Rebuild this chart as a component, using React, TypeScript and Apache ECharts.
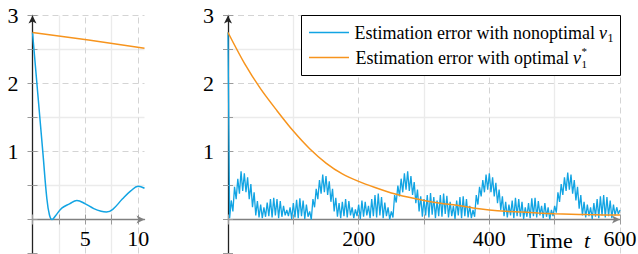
import React, { useEffect, useRef } from 'react';
import * as echarts from 'echarts';

const BLUE = '#12a4e3';
const ORANGE = '#f7941d';
const FONT = 'Liberation Serif';

// ---- Left panel (first seconds) ----
const leftBlueT = [0, 0.5, 1.0, 1.35, 1.6, 1.85, 2.2, 2.8, 3.5, 4.2, 5.0, 5.8, 6.5, 7.0, 7.6, 8.5, 9.3, 10.0, 10.6];
const leftBlueV = [2.75, 1.85, 0.95, 0.32, 0.07, 0.0, 0.06, 0.17, 0.23, 0.28, 0.23, 0.16, 0.12, 0.11, 0.15, 0.3, 0.42, 0.49, 0.46];
const leftOrangeT = [0, 5.3, 10.6];
const leftOrangeV = [2.75, 2.64, 2.52];

// ---- Right panel ----
const rightOrangeT = [0, 25, 50, 75, 100, 125, 150, 175, 200, 225, 250, 275, 300, 325, 350, 375, 400, 425, 450, 475, 500, 525, 550, 575, 600];
const rightOrangeV = [2.75, 2.3, 1.92, 1.6, 1.3, 1.04, 0.83, 0.67, 0.56, 0.47, 0.39, 0.33, 0.28, 0.24, 0.21, 0.17, 0.14, 0.12, 0.11, 0.095, 0.085, 0.078, 0.072, 0.068, 0.065];

const BLUE_STEP = 2.5;
const blueStart = [0, 2.75];
const blueSegA = [0.02, 0.28, 0.12, 0.48, 0.30, 0.60, 0.38, 0.71, 0.42, 0.68, 0.40, 0.62, 0.30, 0.52, 0.18, 0.40, 0.06, 0.27];
const blueSegB = [0.03, 0.22, 0.02, 0.18, 0.04, 0.25, 0.05, 0.30, 0.03, 0.32, 0.06, 0.30, 0.02, 0.27, 0.04, 0.20, 0.06, 0.14, 0.05, 0.18, 0.01, 0.24, 0.03, 0.29, 0.02, 0.31, 0.05, 0.28, 0.01, 0.22, 0.04, 0.12, 0.00];
const blueSegC = [0.30, 0.18, 0.45, 0.30, 0.58, 0.38, 0.66, 0.40, 0.64, 0.36, 0.56, 0.26, 0.45, 0.12, 0.32, 0.04];
const blueSegD = [0.24, 0.02, 0.26, 0.05, 0.30, 0.03, 0.27, 0.06, 0.18, 0.02, 0.15, 0.05, 0.22, 0.01, 0.28, 0.04, 0.26, 0.06, 0.20, 0.02, 0.30, 0.05, 0.36, 0.03, 0.38, 0.06, 0.33, 0.02, 0.25, 0.05, 0.18, 0.00, 0.12, 0.03];
const blueSegE = [0.36, 0.25, 0.50, 0.34, 0.60, 0.40, 0.68, 0.44, 0.71, 0.42, 0.64, 0.36, 0.55, 0.24, 0.44, 0.12, 0.34, 0.04];
const blueSegF = [0.30, 0.06, 0.36, 0.03, 0.39, 0.07, 0.33, 0.02, 0.28, 0.05, 0.36, 0.04, 0.38, 0.08, 0.35, 0.03, 0.26, 0.05, 0.20, 0.01, 0.28, 0.06, 0.33, 0.02, 0.34, 0.05, 0.30, 0.03, 0.20, 0.02, 0.14, 0.04];
const blueSegG = [0.36, 0.22, 0.48, 0.34, 0.58, 0.40, 0.66, 0.44, 0.68, 0.40, 0.62, 0.34, 0.54, 0.24, 0.44, 0.14, 0.34, 0.05];
const blueSegH = [0.26, 0.03, 0.22, 0.06, 0.28, 0.02, 0.32, 0.05, 0.30, 0.04, 0.26, 0.01, 0.18, 0.04, 0.24, 0.02, 0.31, 0.05, 0.32, 0.03, 0.27, 0.06, 0.20, 0.02, 0.24, 0.04, 0.18, 0.00, 0.14, 0.05, 0.20, 0.10];
const blueSegI = [0.40, 0.26, 0.52, 0.36, 0.62, 0.42, 0.69, 0.44, 0.66, 0.38, 0.58, 0.28, 0.48, 0.16, 0.36, 0.06];
const blueSegJ = [0.26, 0.03, 0.22, 0.05, 0.18, 0.01, 0.24, 0.04, 0.30, 0.02, 0.34, 0.06, 0.36, 0.03, 0.33, 0.05, 0.28, 0.02, 0.22, 0.06, 0.18, 0.08, 0.14];
const blueSegments: [number, number[]][] = [
  [2.5, blueSegA], [47.5, blueSegB], [130, blueSegC], [170, blueSegD], [255, blueSegE],
  [300, blueSegF], [380, blueSegG], [425, blueSegH], [505, blueSegI], [545, blueSegJ],
];

// Axis ticks / labels
const leftXTicks = [0, 2.5, 5, 7.5, 10];
const leftXLabels = [5, 10];
const leftXMajor = [5, 10];
const leftXMinor = [2.5, 7.5];
const rightXTicks = [0, 100, 200, 300, 400, 500, 600];
const rightXLabels = [200, 400, 600];
const rightXMajor = [200, 400, 600];
const rightXMinor = [100, 300, 500];
const yTicks = [-0.5, 0, 0.5, 1, 1.5, 2, 2.5, 3];
const yLabels = [1, 2, 3];
const yMajor = [1, 2, 3];
const yMinor = [0.5, 1.5, 2.5];

const LEGEND_1 = 'Estimation error with nonoptimal';
const LEGEND_2 = 'Estimation error with optimal';
const AXIS_TITLE = 'Time';
const AXIS_VAR = 't';

function zip(t: number[], v: number[]) {
  return t.map((x, i) => [x, v[i]]);
}

function blueData() {
  const out: number[][] = [blueStart];
  blueSegments.forEach(([s, vals]) => {
    vals.forEach((v, i) => out.push([s + i * BLUE_STEP, v]));
  });
  return out;
}

export default function App() {
  const ref = useRef<HTMLDivElement>(null);
  useEffect(() => {
    document.body.style.margin = '0';
    const chart = echarts.init(ref.current!, undefined, { renderer: 'svg' });

    const dashed = { color: '#d4d4d4', width: 1, type: [6, 4] as any };
    const solid = { color: '#ebebeb', width: 1.3, type: 'solid' as any };
    const gridMarks = (xMaj: number[], xMin: number[]) => [
      ...yMinor.map((y) => ({ yAxis: y, lineStyle: solid })),
      ...yMajor.map((y) => ({ yAxis: y, lineStyle: dashed })),
      ...xMin.map((x) => ({ xAxis: x, lineStyle: solid })),
      ...xMaj.map((x) => ({ xAxis: x, lineStyle: dashed })),
    ];

    const xAxisDef = (gridIndex: number, max: number, ticks: number[], labels: number[], primary: boolean) => ({
      type: 'value', gridIndex, min: 0, max, position: primary ? 'bottom' : 'top',
      axisLine: {
        show: primary, onZero: true,
        lineStyle: { color: '#808080', width: 1.4 },
        symbol: ['none', 'arrow'], symbolSize: [6, 8],
      },
      axisTick: { show: true, customValues: ticks, length: 5, inside: false, lineStyle: { color: '#9a9a9a', width: 1 } },
      axisLabel: { show: primary, customValues: labels, margin: -26, fontSize: 22, fontFamily: FONT, color: '#000' },
      splitLine: { show: false },
      z: 4,
    });
    const yAxisDef = (gridIndex: number, primary: boolean) => ({
      type: 'value', gridIndex, min: -0.5, max: 3, position: primary ? 'left' : 'right',
      axisLine: {
        show: primary, onZero: true,
        lineStyle: { color: '#222', width: 1.3 },
        symbol: ['none', 'arrow'], symbolSize: [6, 8],
      },
      axisTick: { show: true, customValues: yTicks, length: 5, inside: false, lineStyle: { color: '#9a9a9a', width: 1 } },
      axisLabel: { show: primary, customValues: yLabels, margin: 14, fontSize: 22, fontFamily: FONT, color: '#000' },
      splitLine: { show: false },
      z: 4,
    });

    const LF = 18;
    const r1 = 32.5;
    const r2 = 57.5;
    const v1x = 599;
    const v2x = 573;
    const txt = (x: number, y: number, text: string, extra: any = {}) => ({
      type: 'text', x, y, z: 20,
      style: { text, fontSize: LF, fontFamily: FONT, fill: '#000', align: 'left', verticalAlign: 'middle', ...extra },
    });

    chart.setOption({
      animation: false,
      grid: [
        { left: 32.5, top: 15.5, width: 112, height: 238, outerBoundsMode: 'none', containLabel: false },
        { left: 228, top: 15.5, width: 392, height: 238, outerBoundsMode: 'none', containLabel: false },
      ],
      xAxis: [
        xAxisDef(0, 10.6, leftXTicks, leftXLabels, true),
        xAxisDef(0, 10.6, leftXTicks, leftXLabels, false),
        xAxisDef(1, 600, rightXTicks, rightXLabels, true),
        xAxisDef(1, 600, rightXTicks, rightXLabels, false),
      ],
      yAxis: [yAxisDef(0, true), yAxisDef(0, false), yAxisDef(1, true), yAxisDef(1, false)],
      series: [
        {
          type: 'line', xAxisIndex: 0, yAxisIndex: 0, data: [], z: 1, silent: true,
          markLine: { silent: true, z: 1, symbol: ['none', 'none'], label: { show: false }, data: gridMarks(leftXMajor, leftXMinor) },
        },
        {
          type: 'line', xAxisIndex: 2, yAxisIndex: 2, data: [], z: 1, silent: true,
          markLine: { silent: true, z: 1, symbol: ['none', 'none'], label: { show: false }, data: gridMarks(rightXMajor, rightXMinor) },
        },
        {
          name: 'blueL', type: 'line', xAxisIndex: 0, yAxisIndex: 0, data: zip(leftBlueT, leftBlueV),
          smooth: 0.4, symbol: 'none', lineStyle: { color: BLUE, width: 1.5 }, z: 5,
        },
        {
          name: 'orangeL', type: 'line', xAxisIndex: 0, yAxisIndex: 0, data: zip(leftOrangeT, leftOrangeV),
          symbol: 'none', lineStyle: { color: ORANGE, width: 1.5 }, z: 6,
        },
        {
          name: 'blueR', type: 'line', xAxisIndex: 2, yAxisIndex: 2, data: blueData(),
          symbol: 'none', lineStyle: { color: BLUE, width: 1.3 }, z: 5,
        },
        {
          name: 'orangeR', type: 'line', xAxisIndex: 2, yAxisIndex: 2, data: zip(rightOrangeT, rightOrangeV),
          smooth: 0.3, symbol: 'none', lineStyle: { color: ORANGE, width: 1.5 }, z: 6,
        },
      ],
      graphic: [
        { type: 'rect', z: 19, shape: { x: 301.5, y: 15.5, width: 319, height: 60 }, style: { fill: '#fff', stroke: '#000', lineWidth: 1 } },
        { type: 'line', z: 20, shape: { x1: 309, y1: r1, x2: 349, y2: r1 }, style: { stroke: BLUE, lineWidth: 1.5 } },
        { type: 'line', z: 20, shape: { x1: 309, y1: r2, x2: 349, y2: r2 }, style: { stroke: ORANGE, lineWidth: 1.5 } },
        txt(v1x - 4, r1, LEGEND_1, { align: 'right' }),
        txt(v1x, r1, 'v', { fontStyle: 'italic' }),
        txt(v1x + 8.5, r1 + 5, '1', { fontSize: 12 }),
        txt(v2x - 4, r2, LEGEND_2, { align: 'right' }),
        txt(v2x, r2, 'v', { fontStyle: 'italic' }),
        txt(v2x + 8.5, r2 + 6, '1', { fontSize: 11 }),
        txt(v2x + 8.5, r2 - 6.5, '*', { fontSize: 11 }),
        txt(527, 240, AXIS_TITLE, { fontSize: 22 }),
        txt(584, 240, AXIS_VAR, { fontSize: 22, fontStyle: 'italic' }),
      ],
    });
    return () => chart.dispose();
  }, []);
  return <div ref={ref} style={{ width: 638, height: 254 }} />;
}
